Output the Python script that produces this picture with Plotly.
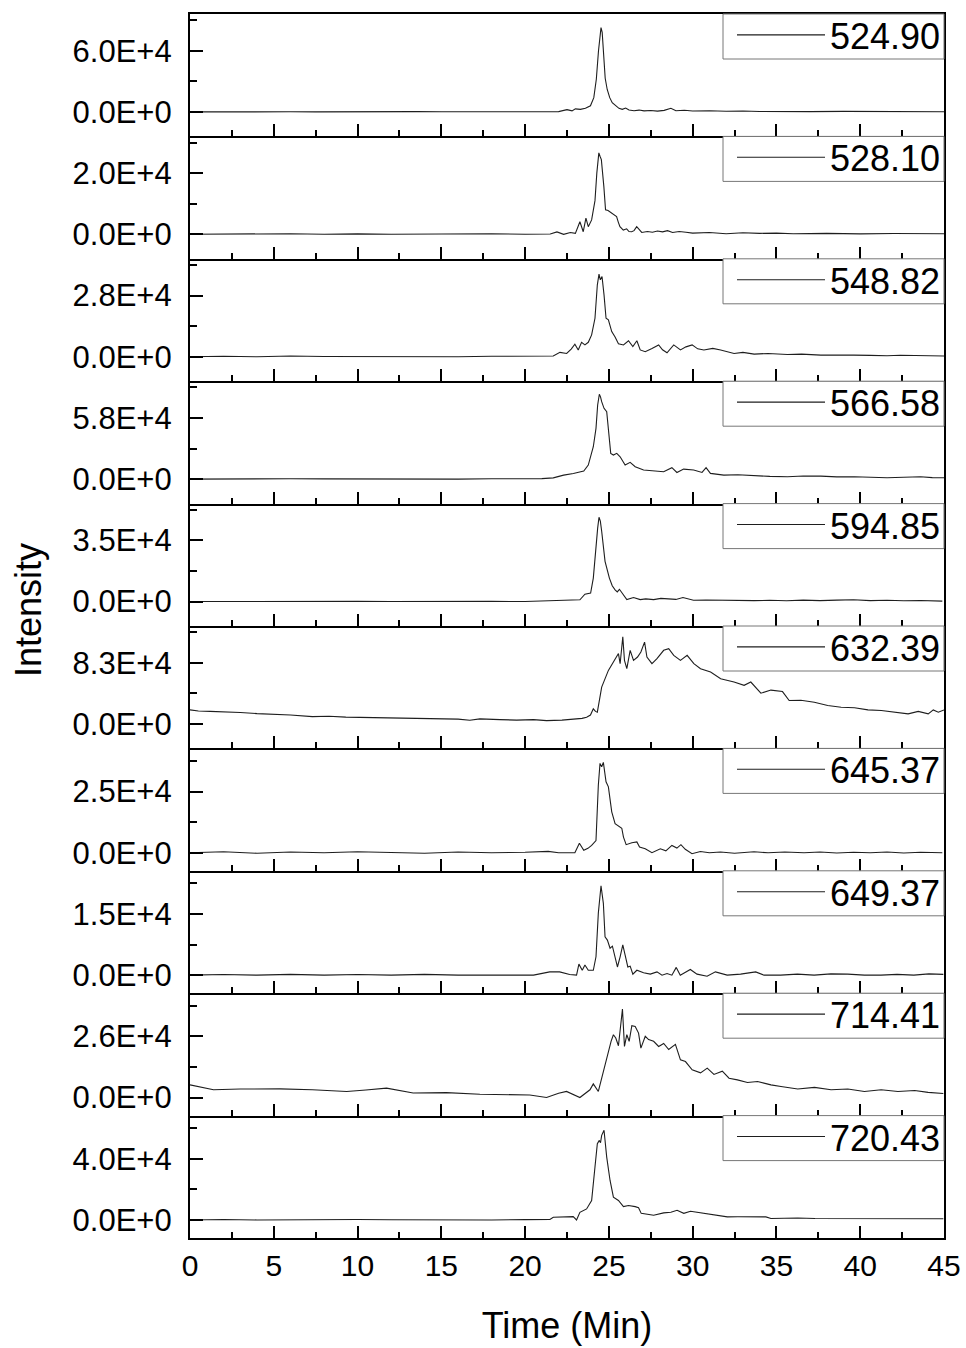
import plotly.graph_objects as go
from plotly.subplots import make_subplots

labels = ["524.90", "528.10", "548.82", "566.58", "594.85",
          "632.39", "645.37", "649.37", "714.41", "720.43"]
tick_tops = [6.0e4, 2.0e4, 2.8e4, 5.8e4, 3.5e4, 8.3e4, 2.5e4, 1.5e4, 2.6e4, 4.0e4]
tick_top_text = ["6.0E+4", "2.0E+4", "2.8E+4", "5.8E+4", "3.5E+4",
                 "8.3E+4", "2.5E+4", "1.5E+4", "2.6E+4", "4.0E+4"]
zero_text = "0.0E+0"
x_ticks = [0, 5, 10, 15, 20, 25, 30, 35, 40, 45]
x_tick_text = ["0", "5", "10", "15", "20", "25", "30", "35", "40", "45"]

t1 = [0, 1.5, 3, 4.5, 6, 7.5, 9, 10.5, 12, 13.5, 15, 16.5, 18, 19.5, 21, 22.0, 22.5, 22.8, 23.0, 23.3,
      23.6, 23.9, 24.1, 24.25, 24.38, 24.47, 24.53, 24.6, 24.68, 24.78, 24.9, 25.05, 25.2, 25.4, 25.6,
      25.8, 26.0, 26.2, 26.5, 26.8, 27.1, 27.5, 27.9, 28.3, 28.7, 29.0, 29.5, 30.0, 31, 32, 33, 34, 35,
      37, 39, 41, 43, 45]
i1 = [0, 200, 0, 300, 100, 0, 200, 100, 0, 300, 100, 0, 200, 100, 0, 300, 2200, 1000, 3000, 2500,
      3500, 6000, 14000, 32000, 60000, 79000, 82600, 78000, 55000, 33000, 22000, 14000, 9000, 6000, 3500,
      2500, 3800, 1800, 1200, 1800, 1000, 1400, 800, 1500, 3600, 1200, 1600, 900, 1200, 600, 900, 400, 600,
      300, 500, 200, 400, 200]

t2 = [0, 2, 4, 6, 8, 10, 12, 14, 16, 18, 20, 21.5, 21.9, 22.3, 22.7, 23.0, 23.27, 23.47, 23.63, 23.77,
      23.97, 24.17, 24.28, 24.4, 24.47, 24.55, 24.7, 24.8, 24.95, 25.06, 25.2, 25.3, 25.46, 25.56, 25.66,
      25.86, 26.06, 26.2, 26.36, 26.5, 26.66, 26.96, 27.3, 27.6, 27.9, 28.2, 28.5, 28.8, 29.2, 29.6, 30,
      31, 32, 33, 34, 35, 36, 38, 40, 42, 44, 45]
i2 = [0, 100, 0, 200, 0, 150, 0, 100, 0, 200, 0, 100, 800, 0, 600, 300, 4100, 850, 5300, 2500,
      4700, 11000, 20000, 26600, 25500, 24400, 15600, 8000, 7800, 7400, 6800, 6300, 5800, 4000, 2500,
      1400, 1800, 900, 850, 1200, 2500, 600, 900, 700, 1100, 800, 1200, 600, 900, 700, 400,
      600, 200, 500, 300, 400, 200, 300, 150, 250, 100, 200]

t3 = [0, 2, 4, 6, 8, 10, 12, 14, 16, 18, 20, 21.0, 21.68, 22.08, 22.48, 22.75, 22.97, 23.17, 23.37,
      23.57, 23.77, 23.97, 24.17, 24.31, 24.41, 24.49, 24.59, 24.71, 24.83, 24.97, 25.17, 25.37, 25.57,
      25.87, 26.17, 26.43, 26.67, 26.87, 27.17, 27.57, 27.97, 28.2, 28.47, 28.87, 29.27, 29.6, 29.97,
      30.3, 30.67, 31.2, 31.67, 32.47, 33.0, 33.67, 34.5, 35.66, 36.5, 37.65, 38.6, 39.6, 40.6, 41.6,
      42.4, 43.2, 44.0, 45]
i3 = [0, 200, 0, 300, 100, 0, 200, 100, 0, 200, 100, 0, 300, 2000, 1500, 3500, 5700, 3100, 6600,
      5400, 6600, 10000, 17600, 32900, 37800, 35200, 36700, 28300, 17600, 16900, 11500, 9000, 5900,
      5400, 7300, 4600, 7300, 3100, 2300, 3800, 5400, 3200, 1800, 5400, 3100, 4500, 5400,
      3600, 3100, 3800, 3100, 1500, 2000, 1200, 1500, 1000, 1200, 750, 900, 750, 600, 450,
      700, 500, 600, 300]

t4 = [0, 2, 4, 6, 8, 10, 12, 14, 16, 18, 20, 21.0, 21.68, 22.3, 22.88, 23.5, 23.77, 24.07, 24.23,
      24.33, 24.43, 24.5, 24.57, 24.71, 24.87, 24.99, 25.11, 25.27, 25.47, 25.67, 25.97, 26.27, 26.57,
      27.07, 27.67, 28.27, 28.76, 29.06, 29.46, 30.06, 30.56, 30.8, 31.06, 31.86, 32.7, 33.66, 34.6,
      35.66, 36.6, 37.65, 38.6, 39.65, 40.6, 41.6, 42.6, 43.6, 44.3, 45]
i4 = [0, 300, 0, 400, 200, 0, 300, 100, 0, 300, 200, 500, 1200, 3800, 5400, 7600, 13300, 30700, 48100,
      70300, 80400, 78000, 73400, 67100, 63900, 44900, 24400, 22800, 24400, 21200, 13300, 15900, 11800,
      8700, 7600, 7000, 10800, 6300, 9500, 8700, 6300, 10800, 5400, 3800, 4200, 3200, 2600,
      2200, 2900, 2800, 2100, 2200, 1600, 1300, 1800, 2200, 1400, 1300]

t5 = [0, 2, 4, 6, 8, 10, 12, 14, 16, 18, 20, 21.48, 22.0, 22.5, 23.0, 23.27, 23.57, 23.91, 24.07,
      24.23, 24.33, 24.41, 24.49, 24.57, 24.77, 25.03, 25.2, 25.37, 25.5, 25.63, 25.77, 26.07, 26.47,
      26.87, 27.2, 27.67, 28.1, 28.57, 29.0, 29.42, 30.05, 30.8, 31.66, 32.6, 33.66, 34.6, 35.6, 36.6,
      37.6, 38.6, 39.6, 40.6, 41.6, 42.6, 43.6, 44.9]
i5 = [0, 100, 0, 150, 0, 100, 0, 150, 0, 100, 0, 300, 800, 500, 900, 1000, 4200, 4800, 13400,
      32500, 42000, 48200, 46000, 40200, 23000, 13400, 9000, 6700, 5500, 7000, 5200, 1100, 2300,
      1100, 1500, 1100, 1800, 1500, 1200, 2300, 700, 900, 700, 900, 500, 700, 400, 800,
      500, 800, 1000, 500, 700, 400, 600, 200]

t6 = [0, 0.5, 1.2, 2.0, 3.0, 4.0, 5.0, 6.0, 7.3, 8.3, 9.3, 10.3, 11.3, 12.3, 13.3, 14.3, 15.3, 16.0,
      16.7, 17.3, 18.5, 19.5, 20.5, 21.28, 22.2, 23.07, 23.4, 23.67, 23.9, 24.07, 24.2, 24.31, 24.57,
      24.97, 25.27, 25.57, 25.67, 25.83, 25.93, 26.07, 26.27, 26.47, 26.71, 26.91, 27.13, 27.27, 27.57,
      27.87, 28.27, 28.57, 28.87, 29.27, 29.67, 30.07, 30.47, 31.07, 31.67, 32.47, 33.07, 33.47, 34.07,
      34.67, 35.36, 35.76, 36.46, 37.26, 38.06, 38.86, 39.66, 40.46, 41.26, 42.06, 42.86, 43.46, 44.06,
      44.36, 44.66, 45]
i6 = [19000, 17500, 17000, 16500, 15500, 14000, 13500, 12000, 9900, 10500, 9200, 8800, 8000, 8500,
      8200, 7500, 6800, 6500, 5000, 6800, 5800, 5200, 5800, 4500, 5200, 6800, 7500, 9100, 12000,
      20400, 17000, 15900, 49900, 72600, 83900, 95400, 81700, 118000, 86200, 74900, 99800, 86200,
      90700, 97500, 111000, 90700, 81700, 88500, 99800, 102000, 93000, 86200, 93000, 81700, 74900,
      70400, 61300, 56800, 52300, 56800, 41700, 45900, 43900, 31700, 32000, 29300, 24900, 22700,
      22000, 19000, 18100, 15900, 13600, 17000, 13600, 19000, 15900, 19000]

t7 = [0, 2, 4, 6, 8, 10, 12, 14, 16, 18, 20, 21.38, 22.0, 22.97, 23.24, 23.5, 23.75, 23.97, 24.23,
      24.37, 24.47, 24.57, 24.67, 24.83, 24.97, 25.17, 25.37, 25.63, 25.77, 25.87, 26.03, 26.37, 26.67,
      26.83, 27.17, 27.57, 28.07, 28.4, 28.76, 29.06, 29.3, 29.56, 29.96, 30.46, 31.0, 31.66, 32.5,
      33.66, 34.5, 35.5, 36.65, 37.6, 38.6, 39.6, 40.6, 41.6, 42.6, 43.6, 44.9]
i7 = [0, 400, -200, 300, 0, 400, 100, -200, 300, 0, 200, 550, 0, 0, 3900, 1000, 1800, 3000, 5000,
      27600, 36500, 35100, 36900, 29000, 26900, 16700, 11900, 10500, 10000, 6400, 3300, 4100, 4400,
      2300, 1600, 0, 1600, 800, 3000, 1900, 3300, 1400, -400, 500, 0, 300, -200,
      400, 0, 300, 0, 300, -100, 200, 0, 300, -100, 200, 0]

t8 = [0, 2, 4, 6, 8, 10, 12, 14, 16, 17.3, 19, 20.5, 21.47, 22.06, 22.66, 23.07, 23.21, 23.41, 23.57,
      23.77, 24.07, 24.23, 24.37, 24.53, 24.67, 24.77, 24.91, 25.07, 25.21, 25.37, 25.51, 25.67, 25.83,
      25.97, 26.13, 26.27, 26.43, 26.67, 27.07, 27.47, 27.87, 28.17, 28.47, 28.76, 29.02, 29.26, 29.86,
      30.26, 30.86, 31.36, 32.06, 32.86, 33.76, 34.26, 35.25, 36.25, 37.25, 38.25, 39.25, 40.25, 41.24,
      42.2, 43.2, 44.1, 44.96]
i8 = [0, 150, 0, 200, 0, 150, 0, 200, 0, 0, 150, 0, 800, 800, 160, 0, 2700, 1200, 2500,
      1200, 1200, 4500, 15200, 21900, 17600, 9400, 8600, 6600, 7100, 4500, 2000, 4500, 7400,
      4900, 2000, 2200, 250, 1200, 600, 250, 800, 0, 400, 0, 1900, 0, 1400,
      250, -250, 800, 0, 250, 800, 0, 0, 250, 0, 300, 250, 0, 0,
      200, 0, 300, 200]

t9 = [0, 0.7, 1.4, 3.0, 5.37, 7.3, 9.35, 10.5, 11.73, 13.32, 15.3, 17.3, 19.0, 20.28, 21.28, 22.0,
      22.47, 23.27, 23.87, 24.07, 24.37, 24.71, 24.97, 25.13, 25.27, 25.41, 25.57, 25.71, 25.81, 25.93,
      26.07, 26.21, 26.37, 26.57, 26.77, 26.91, 27.17, 27.37, 27.67, 27.97, 28.27, 28.57, 28.97, 29.27,
      29.57, 29.97, 30.47, 30.87, 31.27, 31.77, 32.17, 32.67, 33.27, 33.87, 34.67, 35.27, 36.27, 37.27,
      38.26, 39.26, 40.25, 41.25, 42.25, 43.25, 44.05, 44.96]
i9 = [5400, 4400, 3300, 3600, 3700, 3300, 2600, 3200, 4000, 1900, 2100, 1400, 1300, 1100, 0, 1800,
      2600, 0, 3300, 5800, 2600, 12500, 19600, 23900, 26700, 25300, 22000, 31000, 37600, 21700,
      26700, 23900, 30500, 30200, 27400, 21000, 26000, 24600, 23900, 21700, 23000, 20400, 22600, 16000,
      15300, 11800, 10500, 12500, 9800, 11200, 8200, 7500, 6400, 6800, 5400, 4700, 3600, 4300,
      3300, 3600, 2600, 3300, 2600, 3000, 2200, 1700]

t10 = [0, 2, 4, 6, 8, 10, 12, 14, 16, 18, 20, 21.48, 21.68, 22.3, 22.87, 23.07, 23.27, 23.67, 23.97,
       24.17, 24.31, 24.43, 24.5, 24.57, 24.71, 24.87, 25.07, 25.27, 25.57, 25.87, 26.17, 26.57, 26.77,
       26.93, 27.3, 27.67, 28.27, 28.7, 29.07, 29.47, 29.87, 30.47, 31.27, 32.07, 32.7, 33.27, 34.37,
       34.67, 35.5, 36.27, 37.3, 38.26, 39.3, 40.25, 41.3, 42.25, 43.5, 44.96]
i10 = [0, 300, 0, 200, 0, 300, 100, 0, 300, 0, 200, 300, 1800, 1900, 2200, 0, 5000, 7200, 12700,
       34600, 49900, 52000, 50500, 55300, 58600, 41100, 25800, 14900, 12700, 8700, 9400, 8700, 8000,
       4300, 3600, 3100, 4600, 5000, 6300, 4300, 5700, 4600, 3100, 2000, 2100, 2000, 2000,
       900, 1300, 1300, 900, 900, 700, 700, 900, 900, 700, 800]

times = [t1, t2, t3, t4, t5, t6, t7, t8, t9, t10]
intens = [i1, i2, i3, i4, i5, i6, i7, i8, i9, i10]

FONT = "Liberation Sans, Arial, sans-serif"
N = len(labels)
W, H = 966, 1348
M_L, M_R, M_T, M_B = 190, 22, 14, 110
PLOT_W = W - M_L - M_R
PLOT_H = H - M_T - M_B
fig = make_subplots(rows=N, cols=1, shared_xaxes=True, vertical_spacing=0)

for k in range(N):
    row = k + 1
    lg = "legend" if k == 0 else f"legend{row}"
    fig.add_trace(go.Scatter(x=times[k], y=intens[k], mode="lines", name=labels[k],
                             line=dict(color="#1e1e1e", width=1.1), legend=lg),
                  row=row, col=1)
    L = tick_tops[k]
    if k < 6:
        rng = [-0.40 * L, 1.60 * L]
    else:
        rng = [-0.295 * L, 1.705 * L]
    fig.update_yaxes(range=rng, tickmode="array", tickvals=[0, L],
                     ticktext=[zero_text, tick_top_text[k]],
                     ticks="inside", ticklen=13, tickwidth=2, tickcolor="black",
                     ticklabelstandoff=10,
                     minor=dict(tickmode="array", tickvals=[0.5 * L, 1.5 * L], ticks="inside",
                                ticklen=7, tickwidth=2, tickcolor="black"),
                     showline=True, linewidth=2.2, linecolor="black", mirror=True,
                     showgrid=False, zeroline=False,
                     tickfont=dict(family=FONT, size=31, color="black"),
                     row=row, col=1)
    fig.update_xaxes(range=[0, 45], tickmode="array", tickvals=x_ticks, ticktext=x_tick_text,
                     ticks="inside", ticklen=12, tickwidth=2, tickcolor="black",
                     minor=dict(dtick=2.5, tick0=0, ticks="inside", ticklen=6, tickwidth=2,
                                tickcolor="black"),
                     showline=True, linewidth=2.2, linecolor="black", mirror=(k == 0),
                     showgrid=False, zeroline=False,
                     tickfont=dict(family=FONT, size=30, color="black"),
                     row=row, col=1)
    top = 1 - k / N
    top_px = M_T + k * PLOT_H / N
    # legend box frame (decoration) drawn under the legend entries
    fig.add_shape(type="rect", xref="paper", yref="paper",
                  x0=(723 - M_L) / PLOT_W, x1=1.0, y0=top - 45 / PLOT_H, y1=top,
                  fillcolor="white", line=dict(color="#777777", width=1), layer="above")
    fig.update_layout(**{lg: dict(xref="container", yref="container",
                                  x=946 / W, xanchor="right",
                                  y=1 - (top_px - 9) / H, yanchor="top",
                                  bgcolor="rgba(0,0,0,0)", borderwidth=0,
                                  itemwidth=88,
                                  font=dict(family=FONT, size=36, color="black"))})

fig.update_xaxes(title=dict(text="Time (Min)", font=dict(family=FONT, size=36, color="black"),
                            standoff=32), row=N, col=1)

fig.add_annotation(text="Intensity", textangle=-90, xref="paper", yref="paper",
                   x=-0.215, y=0.513, xanchor="center", yanchor="middle", showarrow=False,
                   font=dict(family=FONT, size=36, color="black"))

fig.update_layout(width=W, height=H, margin=dict(l=M_L, r=M_R, t=M_T, b=M_B, autoexpand=False),
                  paper_bgcolor="white", plot_bgcolor="white", showlegend=True)

fig.write_html("out.html")
